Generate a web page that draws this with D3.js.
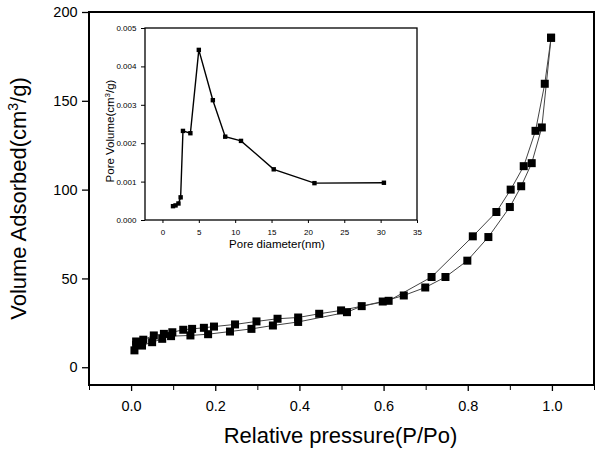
<!DOCTYPE html>
<html><head><meta charset="utf-8">
<script src="https://cdn.jsdelivr.net/npm/d3@7"></script>
<style>html,body{margin:0;padding:0;background:#fff}</style>
</head><body>
<script>
// Main isotherm data
const adsP = [0.008, 0.012, 0.026, 0.05, 0.074, 0.095, 0.141, 0.183, 0.235, 0.286, 0.337, 0.397, 0.513, 0.548, 0.598, 0.648, 0.699, 0.747, 0.799, 0.849, 0.900, 0.927, 0.952, 0.976, 0.998];
const adsV = [9.5, 12.5, 12.2, 14.1, 16.0, 17.5, 17.9, 18.6, 20.1, 21.6, 23.5, 25.5, 31.0, 34.4, 37.0, 40.4, 44.9, 50.8, 60.0, 73.3, 90.2, 101.9, 114.9, 135.0, 185.5];
const desP = [0.998, 0.983, 0.961, 0.933, 0.902, 0.868, 0.812, 0.714, 0.612, 0.499, 0.447, 0.397, 0.348, 0.298, 0.247, 0.197, 0.173, 0.145, 0.124, 0.098, 0.078, 0.054, 0.029, 0.012];
const desV = [185.5, 159.6, 133.1, 113.2, 100.0, 87.4, 73.7, 50.8, 37.4, 32.0, 30.1, 28.0, 27.3, 25.8, 24.1, 22.9, 22.2, 21.6, 21.1, 19.7, 18.8, 17.9, 15.5, 14.5];
const xTicks = [0.0, 0.2, 0.4, 0.6, 0.8, 1.0];
const xMinorTicks = [-0.1, 0.1, 0.3, 0.5, 0.7, 0.9, 1.1];
const yTicks = [0, 50, 100, 150, 200];
// Inset pore size distribution
const poreD = [1.45, 1.8, 2.2, 2.5, 2.82, 3.84, 5.0, 6.93, 8.63, 10.8, 15.3, 20.9, 30.45];
const poreV = [0.00036, 0.00038, 0.00043, 0.00059, 0.00232, 0.00226, 0.00443, 0.00312, 0.00217, 0.00206, 0.00132, 0.00096, 0.00097];
const insetXTicks = [0, 5, 10, 15, 20, 25, 30, 35];
const insetYTicks = [0, 0.001, 0.002, 0.003, 0.004, 0.005];

const W = 600, H = 453;
const FONT = "'Liberation Sans', Arial, sans-serif";
const svg = d3.select("body").append("svg").attr("width", W).attr("height", H)
  .style("font-family", FONT);

// main plot
const L = 89, R = 594, T = 12, B = 385;
const x = d3.scaleLinear().domain([-0.1, 1.1]).range([L, R]);
const y = d3.scaleLinear().domain([-10, 200]).range([B, T]);

const xAxis = svg.append("g").attr("transform", `translate(0,${B})`)
  .call(d3.axisBottom(x).tickValues(xTicks).tickFormat(d3.format(".1f")).tickSize(6).tickSizeOuter(0));
svg.append("g").attr("transform", `translate(0,${B})`)
  .call(d3.axisBottom(x).tickValues(xMinorTicks).tickFormat("").tickSize(5).tickSizeOuter(0))
  .call(g => g.select(".domain").remove());
const yAxis = svg.append("g").attr("transform", `translate(${L},0)`)
  .call(d3.axisLeft(y).tickValues(yTicks).tickSize(7).tickSizeOuter(0));
[xAxis, yAxis].forEach(g => {
  g.selectAll("text").attr("font-size", 14.5).attr("fill", "#000").style("font-family", FONT);
  g.selectAll("line").attr("stroke", "#000").attr("stroke-width", 1.3);
});
xAxis.selectAll("text").attr("dy", "1.2em");
yAxis.selectAll("text").attr("dx", "-0.1em");
svg.selectAll(".domain").remove();
svg.append("rect").attr("x", L).attr("y", T).attr("width", R - L).attr("height", B - T)
  .attr("fill", "none").attr("stroke", "#000").attr("stroke-width", 2);

const line = d3.line().x(d => x(d[0])).y(d => y(d[1]));
const ads = adsP.map((p, i) => [p, adsV[i]]);
const des = desP.map((p, i) => [p, desV[i]]);
[ads, des].forEach(s => {
  svg.append("path").datum(s).attr("d", line).attr("fill", "none").attr("stroke", "#444").attr("stroke-width", 1);
});
[ads, des].forEach(s => {
  svg.append("g").selectAll("rect").data(s).join("rect")
    .attr("x", d => x(d[0]) - 4).attr("y", d => y(d[1]) - 4).attr("width", 8).attr("height", 8).attr("fill", "#000");
});

svg.append("text").attr("x", (L + R) / 2 - 1).attr("y", 443).attr("text-anchor", "middle")
  .attr("font-size", 22).text("Relative pressure(P/Po)");
const yt = svg.append("text").attr("transform", `translate(26,${(T + B) / 2}) rotate(-90)`)
  .attr("text-anchor", "middle").attr("font-size", 22);
yt.append("tspan").text("Volume Adsorbed(cm");
yt.append("tspan").attr("font-size", 14).attr("dy", -8).text("3");
yt.append("tspan").attr("dy", 8).text("/g)");

// inset
const iL = 145, iR = 417, iT = 28, iB = 220;
const ix = d3.scaleLinear().domain([-2.4, 35]).range([iL, iR]);
const iy = d3.scaleLinear().domain([0, 0.005]).range([iB, iT]);
const ixAxis = svg.append("g").attr("transform", `translate(0,${iB})`)
  .call(d3.axisBottom(ix).tickValues(insetXTicks).tickSize(3).tickSizeOuter(0));
const iyAxis = svg.append("g").attr("transform", `translate(${iL},0)`)
  .call(d3.axisLeft(iy).tickValues(insetYTicks).tickFormat(d3.format(".3f")).tickSize(4).tickSizeOuter(0));
[ixAxis, iyAxis].forEach(g => {
  g.selectAll("text").attr("font-size", 8).attr("fill", "#000").style("font-family", FONT);
  g.selectAll("line").attr("stroke", "#000");
  g.select(".domain").remove();
});
ixAxis.selectAll("text").attr("dy", "1.1em");
iyAxis.selectAll("text").attr("dx", "-0.2em");
svg.append("rect").attr("x", iL).attr("y", iT).attr("width", iR - iL).attr("height", iB - iT)
  .attr("fill", "none").attr("stroke", "#000").attr("stroke-width", 1.3);
const pore = poreD.map((d, i) => [d, poreV[i]]);
svg.append("path").datum(pore)
  .attr("d", d3.line().x(d => ix(d[0])).y(d => iy(d[1])))
  .attr("fill", "none").attr("stroke", "#000").attr("stroke-width", 1.4);
svg.append("g").selectAll("rect").data(pore).join("rect")
  .attr("x", d => ix(d[0]) - 2.2).attr("y", d => iy(d[1]) - 2.2).attr("width", 4.4).attr("height", 4.4).attr("fill", "#000");
svg.append("text").attr("x", 277).attr("y", 248).attr("text-anchor", "middle")
  .attr("font-size", 11.5).text("Pore diameter(nm)");
const iyt = svg.append("text").attr("transform", `translate(114,131) rotate(-90)`)
  .attr("text-anchor", "middle").attr("font-size", 11.5);
iyt.append("tspan").text("Pore Volume(cm");
iyt.append("tspan").attr("font-size", 8).attr("dy", -4).text("3");
iyt.append("tspan").attr("dy", 4).text("/g)");
</script>
</body></html>
